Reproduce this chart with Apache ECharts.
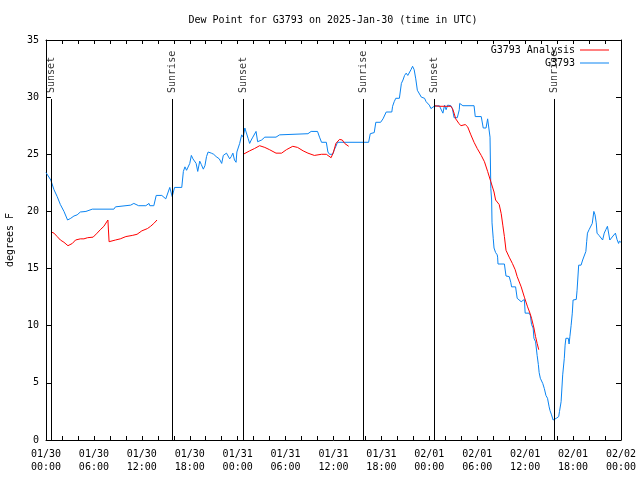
<!DOCTYPE html>
<html>
<head>
<meta charset="utf-8">
<script src="https://cdn.jsdelivr.net/npm/echarts@6/dist/echarts.min.js"></script>
<style>
html,body{margin:0;padding:0;background:#fff;}
#chart{width:640px;height:480px;}
</style>
</head>
<body>
<div id="chart"></div>
<script>
// ---- data (time in hours since 2025-01-30 00:00 UTC) ----
const xTickLabels = ['01/30\n00:00','01/30\n06:00','01/30\n12:00','01/30\n18:00','01/31\n00:00','01/31\n06:00','01/31\n12:00','01/31\n18:00','02/01\n00:00','02/01\n06:00','02/01\n12:00','02/01\n18:00','02/02\n00:00'];

const blueTimes = [0.0,0.6,1.0,1.4,1.8,2.25,2.5,2.7,3.1,3.5,3.9,4.3,5.0,5.8,8.5,8.7,10.6,11.0,11.6,12.5,12.9,13.0,13.5,13.8,14.5,15.0,15.2,15.5,15.8,16.1,17.0,17.2,17.4,17.6,17.8,18.0,18.2,18.4,18.6,18.8,19.0,19.25,19.45,19.7,19.9,20.1,20.3,20.7,21.0,21.3,21.7,22.0,22.2,22.6,23.0,23.2,23.4,23.6,23.8,23.9,24.25,24.5,24.7,24.9,25.1,25.3,25.5,25.7,25.9,26.3,26.5,27.0,27.4,28.8,29.25,29.5,32.8,33.2,34.0,34.25,34.5,35.1,35.3,35.5,35.9,36.1,36.3,36.5,40.4,40.6,40.8,41.1,41.3,41.9,42.2,42.6,43.3,43.4,43.6,43.8,44.25,44.5,44.7,44.9,45.1,45.3,45.5,45.7,45.9,46.1,46.3,46.5,46.75,47.0,47.4,47.6,47.8,48.0,48.2,48.6,49.25,49.7,49.9,50.1,50.3,50.7,50.9,51.1,51.5,51.75,51.8,52.2,53.6,53.75,54.5,54.75,55.1,55.3,55.45,55.6,55.7,55.8,55.85,56.0,56.1,56.3,56.5,56.55,56.6,57.4,57.6,58.0,58.2,58.3,58.8,59.0,59.5,59.7,59.9,60.0,60.5,60.65,60.8,61.0,61.1,61.3,61.5,61.65,61.75,61.9,62.2,62.4,62.6,62.8,63.0,63.1,63.3,63.5,63.75,63.9,64.2,64.3,64.5,64.7,64.9,65.0,65.1,65.4,65.5,65.6,65.75,65.9,66.0,66.4,66.5,66.7,67.0,67.2,67.4,67.6,67.7,67.8,68.0,68.2,68.4,68.6,68.75,68.9,69.0,69.25,69.7,69.9,70.1,70.3,70.4,70.6,70.8,71.0,71.3,71.5,71.7,71.8,72.0];
const blueValues = [23.4,22.75,21.9,21.3,20.6,20.0,19.9,19.25,19.4,19.6,19.7,19.95,20.0,20.2,20.2,20.4,20.55,20.7,20.5,20.5,20.7,20.5,20.5,21.4,21.4,21.1,21.1,22.1,21.3,22.1,22.1,23.5,23.9,23.6,23.7,24.2,24.9,24.6,24.6,24.2,23.5,24.4,24.1,23.7,24.0,24.8,25.2,25.1,25.0,24.8,24.6,24.2,24.9,25.1,24.6,24.8,25.1,24.5,24.3,25.2,25.95,26.7,26.5,27.3,27.4,26.4,25.95,26.25,26.5,27.0,26.1,26.25,26.5,26.5,26.7,26.8,26.8,27.0,27.0,26.5,26.05,26.05,25.2,25.0,25.0,25.4,25.7,26.05,26.05,26.8,26.9,26.9,27.8,27.8,28.1,28.7,28.7,29.2,29.6,29.9,29.9,31.2,31.5,31.9,32.1,31.9,31.9,32.4,32.7,32.4,31.6,30.6,30.6,30.0,29.9,29.6,29.7,29.3,29.0,29.2,29.25,28.6,29.3,28.9,29.3,29.25,28.95,28.2,28.2,28.9,29.45,29.25,29.25,28.3,28.3,27.3,27.3,28.1,28.1,26.5,22.0,21.0,19.0,17.65,16.8,16.4,16.2,16.0,15.4,15.4,14.35,14.3,13.8,13.4,13.4,12.4,12.1,12.25,12.3,11.1,11.1,10.9,10.1,9.8,8.9,8.6,7.4,6.6,5.9,5.4,4.95,4.5,3.9,3.65,2.9,2.6,2.2,1.75,1.75,1.9,2.05,2.5,3.35,5.7,7.15,8.3,8.9,8.9,8.4,9.05,10.0,11.1,12.25,12.3,13.1,15.3,15.3,15.75,15.9,16.5,17.35,18.1,18.4,18.5,18.95,20.0,19.7,19.0,18.1,17.9,17.5,18.1,18.4,18.7,18.8,17.5,17.5,17.85,18.1,17.55,17.2,17.4,17.3];

const redTimes = [0.67,1.0,1.4,1.8,2.25,2.75,3.3,3.7,4.3,4.75,5.2,5.9,6.4,6.8,7.25,7.75,7.9,8.1,8.7,9.3,10.0,10.8,11.4,12.0,12.7,13.1,13.5,13.9,19.0,24.7,25.5,26.1,26.75,27.4,28.0,28.8,29.5,30.1,30.9,31.5,32.2,32.8,33.6,34.5,35.1,35.7,36.0,36.3,36.75,37.1,37.4,37.9,43.0,48.6,49.25,50.7,50.9,51.1,51.3,51.7,51.95,52.5,52.8,53.2,53.6,54.0,54.5,54.9,55.3,55.7,56.1,56.3,56.75,57.0,57.2,57.4,57.6,58.0,58.4,58.75,59.0,59.5,59.9,60.3,60.6,60.8,61.1,61.3,61.5,61.7,61.75];
const redValues = [18.2,18.1,17.8,17.5,17.3,17.0,17.2,17.5,17.6,17.6,17.7,17.75,18.1,18.4,18.7,19.25,17.35,17.4,17.5,17.6,17.8,17.9,18.0,18.3,18.5,18.7,18.95,19.25,null,25.0,25.3,25.5,25.75,25.6,25.4,25.1,25.1,25.4,25.7,25.6,25.3,25.1,24.9,25.0,25.0,24.7,25.2,25.95,26.3,26.25,25.95,25.7,null,29.25,29.2,29.2,29.0,28.6,28.1,27.7,27.5,27.6,27.4,26.7,26.05,25.5,24.9,24.35,23.5,22.6,21.7,21.0,20.6,19.8,18.8,17.8,16.6,16.0,15.45,14.9,14.3,13.4,12.5,11.65,11.1,10.65,9.8,9.05,8.45,7.9,7.9];

const eventTimes = [0.67,15.8,24.67,39.75,48.67,63.67];
const eventNames = ['Sunset','Sunrise','Sunset','Sunrise','Sunset','Sunrise'];
const eventLineTop = 29.84;

const seriesNames = ['G3793 Analysis','G3793'];
const titleText = 'Dew Point for G3793 on 2025-Jan-30 (time in UTC)';
const yName = 'degrees F';

// ---- build ----
const FONT = 'DejaVu Sans Mono';
const zip = (a,b) => a.map((t,i) => [t, b[i] === null ? '-' : b[i]]);

const chart = echarts.init(document.getElementById('chart'), null, {renderer:'canvas'});
const axisLineStyle = {color:'#000', width:1};
const option = {
  animation:false,
  backgroundColor:'#fff',
  textStyle:{fontFamily:FONT},
  title:{
    text:titleText, left:328, top:10, textAlign:'center',
    textStyle:{fontFamily:FONT, fontSize:10, fontWeight:'normal', color:'#000'}
  },
  legend:{
    orient:'vertical', right:26, top:40, align:'right', itemGap:3,
    itemWidth:29, itemHeight:1,
    textStyle:{fontFamily:FONT, fontSize:10, color:'#000', padding:[0,0,0,0]},
    data:[{name:seriesNames[0], icon:'rect'},{name:seriesNames[1], icon:'rect'}]
  },
  grid:{left:46, right:19, top:40, bottom:40, containLabel:false, outerBoundsMode:'none'},
  xAxis:[{
    type:'value', min:0, max:72, interval:6, position:'bottom',
    axisLine:{show:true, lineStyle:axisLineStyle, onZero:false},
    axisTick:{show:true, inside:true, length:4, lineStyle:axisLineStyle},
    minorTick:{show:true, splitNumber:3, length:4, lineStyle:axisLineStyle},
    splitLine:{show:false},
    axisLabel:{fontFamily:FONT, fontSize:10, color:'#000', margin:8, lineHeight:13,
      formatter:v => xTickLabels[Math.round(v/6)]}
  },{
    type:'value', min:0, max:72, interval:6, position:'top',
    axisLine:{show:true, lineStyle:axisLineStyle, onZero:false},
    axisTick:{show:true, inside:true, length:4, lineStyle:axisLineStyle},
    minorTick:{show:true, splitNumber:3, length:4, lineStyle:axisLineStyle},
    splitLine:{show:false}, axisLabel:{show:false}
  }],
  yAxis:[{
    type:'value', min:0, max:35, interval:5, position:'left',
    name:yName, nameLocation:'middle', nameGap:31, nameRotate:90,
    nameTextStyle:{fontFamily:FONT, fontSize:10, color:'#000'},
    axisLine:{show:true, lineStyle:axisLineStyle, onZero:false},
    axisTick:{show:true, inside:true, length:5, lineStyle:axisLineStyle},
    splitLine:{show:false},
    axisLabel:{fontFamily:FONT, fontSize:10, color:'#000', margin:7}
  },{
    type:'value', min:0, max:35, interval:5, position:'right',
    axisLine:{show:true, lineStyle:axisLineStyle, onZero:false},
    axisTick:{show:true, inside:true, length:5, lineStyle:axisLineStyle},
    splitLine:{show:false}, axisLabel:{show:false}
  }],
  series:[
    {
      name:seriesNames[0], type:'line', xAxisIndex:0, yAxisIndex:0,
      data:zip(redTimes, redValues), showSymbol:false, symbol:'none',
      connectNulls:false, lineStyle:{color:'#ff0000', width:1}, itemStyle:{color:'#ff0000'}, z:3
    },
    {
      name:seriesNames[1], type:'line', xAxisIndex:0, yAxisIndex:0,
      data:zip(blueTimes, blueValues), showSymbol:false, symbol:'none',
      lineStyle:{color:'#0a84f2', width:1}, itemStyle:{color:'#0a84f2'}, z:2
    },
    {
      name:'events', type:'scatter', xAxisIndex:0, yAxisIndex:0,
      symbolSize:0, silent:true, z:4,
      data:eventTimes.map((t,i) => ({name:eventNames[i], value:[t, eventLineTop]})),
      label:{show:true, formatter:p => p.name, rotate:90, position:[0,-6],
        align:'left', verticalAlign:'middle', fontFamily:FONT, fontSize:10, color:'#000'},
      markLine:{
        silent:true, symbol:'none', animation:false,
        lineStyle:{color:'#000', width:1, type:'solid'},
        label:{show:false},
        data:eventTimes.map(t => [{coord:[t,0]},{coord:[t,eventLineTop]}])
      }
    }
  ]
};
chart.setOption(option);
</script>
</body>
</html>
